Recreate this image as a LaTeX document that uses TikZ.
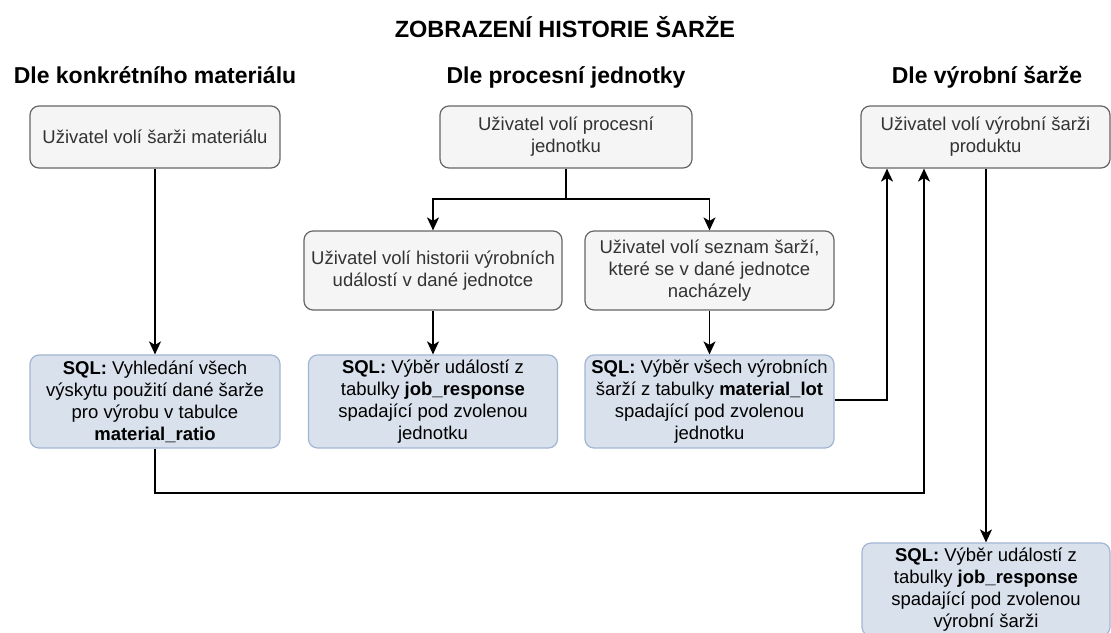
\documentclass[tikz,border=0pt]{standalone}
\usepackage{fontspec}
\setmainfont{Liberation Sans}
\usetikzlibrary{arrows.meta}
\definecolor{greyfill}{HTML}{F5F5F5}
\definecolor{greyline}{HTML}{666666}
\definecolor{greytext}{HTML}{333333}
\definecolor{sqlfill}{HTML}{D9E1EC}
\definecolor{sqlline}{HTML}{A2B6D3}
\begin{document}
\begin{tikzpicture}[x=1pt,y=-1pt,
  box/.style={rounded corners=9pt, line width=1.2pt, align=center, inner sep=0pt,
    font=\fontsize{18.5}{22}\selectfont},
  userbox/.style={box, draw=greyline, fill=greyfill, text=greytext},
  sqlbox/.style={box, draw=sqlline, fill=sqlfill, text=black},
  heading/.style={font=\fontsize{23}{27}\selectfont\bfseries, inner sep=0pt, anchor=base},
  flow/.style={line width=1.4pt, -{Stealth[length=13pt,width=12pt,inset=3.5pt]}},
  plain/.style={line width=1.4pt}]
\useasboundingbox (0,0) rectangle (1111,632);

% title and column headings
\node[font=\fontsize{23.5}{27}\selectfont\bfseries, inner sep=0pt, anchor=base] (title) at (565,37) {ZOBRAZENÍ HISTORIE ŠARŽE};
\node[heading] (hA) at (155,83) {Dle konkrétního materiálu};
\node[heading] (hB) at (566,83) {Dle procesní jednotky};
\node[heading] (hC) at (987,83) {Dle výrobní šarže};

% user choices
\node[userbox, minimum width=250pt, minimum height=62pt] (A1) at (155,137) {Uživatel volí šarži materiálu};
\node[userbox, minimum width=252pt, minimum height=62pt] (B1) at (566,137) {Uživatel volí procesní\\jednotku};
\node[userbox, minimum width=249pt, minimum height=62pt] (C1) at (985.5,137) {Uživatel volí výrobní šarži\\produktu};
\node[userbox, minimum width=258pt, minimum height=79pt] (B2) at (433,270.5) {Uživatel volí historii výrobních\\událostí v dané jednotce};
\node[userbox, minimum width=249pt, minimum height=79pt] (B3) at (709.5,270.5) {Uživatel volí seznam šarží,\\které se v dané jednotce\\nacházely};

% SQL queries
\node[sqlbox, minimum width=250pt, minimum height=93pt] (A2) at (155,401.5) {\textbf{SQL:} Vyhledání všech\\výskytu použití dané šarže\\pro výrobu v tabulce\\\textbf{material\_ratio}};
\node[sqlbox, minimum width=249pt, minimum height=93pt] (B4) at (433,401.5) {\textbf{SQL:} Výběr událostí z\\tabulky \textbf{job\_response}\\spadající pod zvolenou\\jednotku};
\node[sqlbox, minimum width=249pt, minimum height=93pt] (B5) at (709.5,401.5) {\textbf{SQL:} Výběr všech výrobních\\šarží z tabulky \textbf{material\_lot}\\spadající pod zvolenou\\jednotku};
\node[sqlbox, minimum width=248pt, minimum height=93pt] (C2) at (986,589.5) {\textbf{SQL:} Výběr událostí z\\tabulky \textbf{job\_response}\\spadající pod zvolenou\\výrobní šarži};

% connectors
\coordinate (split) at (566,199);
\coordinate (ret1) at (887,400);
\coordinate (ret2a) at (155,493);
\coordinate (ret2b) at (924,493);

\draw[flow] (A1) -- (A2);
\draw[plain] (B1) -- (split);
\draw[flow] (split) -| (B2);
\draw[flow] (split) -| (B3);
\draw[flow] (B2) -- (B4);
\draw[flow] (B3) -- (B5);
\draw[flow] (B5.east |- ret1) -- (ret1) -- (ret1 |- C1.south);
\draw[flow] (A2.south) -- (ret2a) -- (ret2b) -- (ret2b |- C1.south);
\draw[flow] (C1.south -| C2.north) -- (C2.north);
\end{tikzpicture}
\end{document}
